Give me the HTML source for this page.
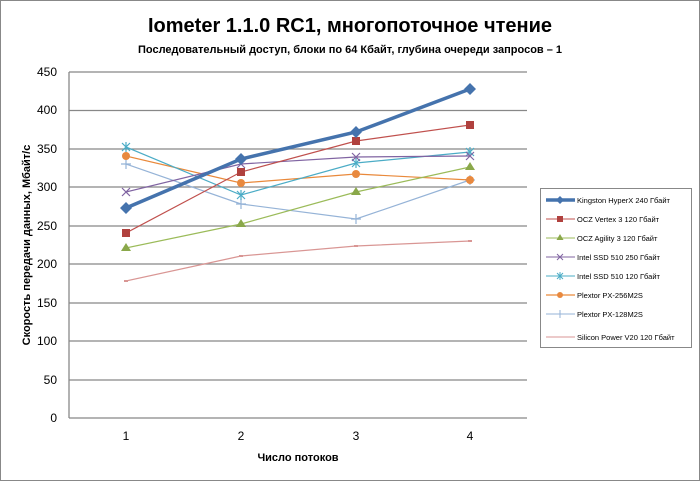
<!DOCTYPE html>
<html><head><meta charset="utf-8"><style>
body{margin:0;background:#fff}
svg text{font-family:"Liberation Sans","DejaVu Sans",sans-serif;}
</style></head><body>
<svg width="700" height="481" xmlns="http://www.w3.org/2000/svg">
<rect x="0.5" y="0.5" width="699" height="480" fill="#fff" stroke="#888"/>
<text x="350" y="32" text-anchor="middle" font-size="20" font-weight="bold">Iometer 1.1.0 RC1, многопоточное чтение</text>
<text x="350" y="53" text-anchor="middle" font-size="11" font-weight="bold">Последовательный  доступ, блоки  по 64 Кбайт,  глубина очереди запросов – 1</text>
<g stroke="#888" stroke-width="1.3">
<line x1="69" y1="72" x2="527" y2="72"/><line x1="69" y1="110.5" x2="527" y2="110.5"/>
<line x1="69" y1="149" x2="527" y2="149"/><line x1="69" y1="187" x2="527" y2="187"/>
<line x1="69" y1="226" x2="527" y2="226"/><line x1="69" y1="264" x2="527" y2="264"/>
<line x1="69" y1="303" x2="527" y2="303"/><line x1="69" y1="341" x2="527" y2="341"/>
<line x1="69" y1="380" x2="527" y2="380"/><line x1="69" y1="418" x2="527" y2="418"/>
<line x1="69" y1="72" x2="69" y2="418"/>
</g>
<g font-size="12" text-anchor="end">
<text x="57" y="76">450</text><text x="57" y="114">400</text><text x="57" y="153">350</text>
<text x="57" y="191">300</text><text x="57" y="230">250</text><text x="57" y="268">200</text>
<text x="57" y="307">150</text><text x="57" y="345">100</text><text x="57" y="384">50</text><text x="57" y="422">0</text>
</g>
<g font-size="12" text-anchor="middle">
<text x="126" y="440">1</text><text x="241" y="440">2</text><text x="356" y="440">3</text><text x="470" y="440">4</text>
</g>
<text x="298" y="461" text-anchor="middle" font-size="11" font-weight="bold">Число  потоков</text>
<text transform="translate(30,245) rotate(-90)" text-anchor="middle" font-size="11" font-weight="bold">Скорость  передачи данных, Мбайт/с</text>
<!-- series -->
<polyline points="126,281 241,256 356,246 470,241" fill="none" stroke="#d99694" stroke-width="1.2"/>
<g fill="#d99694"><rect x="124" y="280" width="4" height="2"/><rect x="239" y="255" width="4" height="2"/><rect x="354" y="245" width="4" height="2"/><rect x="468" y="240" width="4" height="2"/></g>
<polyline points="126,164 241,204 356,219 470,180" fill="none" stroke="#95b3d7" stroke-width="1.2"/>
<g stroke="#95b3d7" stroke-width="1.2"><path d="M121,164h10M126,159v10M236,204h10M241,199v10M351,219h10M356,214v10M465,180h10M470,175v10"/></g>
<polyline points="126,156 241,183 356,174 470,180" fill="none" stroke="#e46c0a" stroke-opacity=".8" stroke-width="1.2"/>
<g fill="#e8893f"><circle cx="126" cy="156" r="4"/><circle cx="241" cy="183" r="4"/><circle cx="356" cy="174" r="4"/><circle cx="470" cy="180" r="4"/></g>
<polyline points="126,147 241,195 356,163 470,152" fill="none" stroke="#4bacc6" stroke-width="1.2"/>
<g stroke="#4bacc6" stroke-width="1.2"><path d="M122,143l8,8M130,143l-8,8M126,142v10M237,191l8,8M245,191l-8,8M241,190v10M352,159l8,8M360,159l-8,8M356,158v10M466,148l8,8M474,148l-8,8M470,147v10"/></g>
<polyline points="126,192 241,164 356,157 470,156" fill="none" stroke="#8064a2" stroke-width="1.2"/>
<g stroke="#8064a2" stroke-width="1.2"><path d="M122,188l8,8M130,188l-8,8M237,160l8,8M245,160l-8,8M352,153l8,8M360,153l-8,8M466,152l8,8M474,152l-8,8"/></g>
<polyline points="126,248 241,224 356,192 470,167" fill="none" stroke="#9bbb59" stroke-width="1.2"/>
<g fill="#8aa84a"><path d="M126,243l5,8h-10z M241,219l5,8h-10z M356,187l5,8h-10z M470,162l5,8h-10z"/></g>
<polyline points="126,233 241,172 356,141 470,125" fill="none" stroke="#c0504d" stroke-width="1.2"/>
<g fill="#b0413e"><rect x="122" y="229" width="8" height="8"/><rect x="237" y="168" width="8" height="8"/><rect x="352" y="137" width="8" height="8"/><rect x="466" y="121" width="8" height="8"/></g>
<polyline points="126,208 241,159 356,132 470,89" fill="none" stroke="#4573ad" stroke-width="3.5"/>
<g fill="#4573ad"><path d="M126,202l6,6l-6,6l-6,-6z M241,153l6,6l-6,6l-6,-6z M356,126l6,6l-6,6l-6,-6z M470,83l6,6l-6,6l-6,-6z"/></g>
<!-- legend -->
<rect x="540.5" y="188.5" width="151" height="159" fill="#fff" stroke="#888"/>
<g font-size="7.5">
<line x1="546" y1="200" x2="575" y2="200" stroke="#4573ad" stroke-width="3.5"/><path d="M560,196l4,4l-4,4l-4,-4z" fill="#4573ad"/>
<text x="577" y="203">Kingston HyperX  240 Гбайт</text>
<line x1="546" y1="219" x2="575" y2="219" stroke="#c0504d"/><rect x="557" y="216" width="6" height="6" fill="#b0413e"/>
<text x="577" y="222">OCZ Vertex  3 120 Гбайт</text>
<line x1="546" y1="238" x2="575" y2="238" stroke="#9bbb59"/><path d="M560,234l3.5,6h-7z" fill="#8aa84a"/>
<text x="577" y="241">OCZ Agility  3 120 Гбайт</text>
<line x1="546" y1="257" x2="575" y2="257" stroke="#8064a2"/><path d="M557,254l6,6M563,254l-6,6" stroke="#8064a2"/>
<text x="577" y="260">Intel  SSD 510 250 Гбайт</text>
<line x1="546" y1="276" x2="575" y2="276" stroke="#4bacc6"/><path d="M557,273l6,6M563,273l-6,6M560,272v8" stroke="#4bacc6"/>
<text x="577" y="279">Intel  SSD 510 120 Гбайт</text>
<line x1="546" y1="295" x2="575" y2="295" stroke="#e46c0a"/><circle cx="560" cy="295" r="3" fill="#e8893f"/>
<text x="577" y="298">Plextor PX-256M2S</text>
<line x1="546" y1="314" x2="575" y2="314" stroke="#95b3d7"/><path d="M560,310v8" stroke="#95b3d7"/>
<text x="577" y="317">Plextor PX-128M2S</text>
<line x1="546" y1="337" x2="575" y2="337" stroke="#d99694"/>
<text x="577" y="340">Silicon  Power  V20 120 Гбайт</text>
</g>
</svg>
</body></html>
